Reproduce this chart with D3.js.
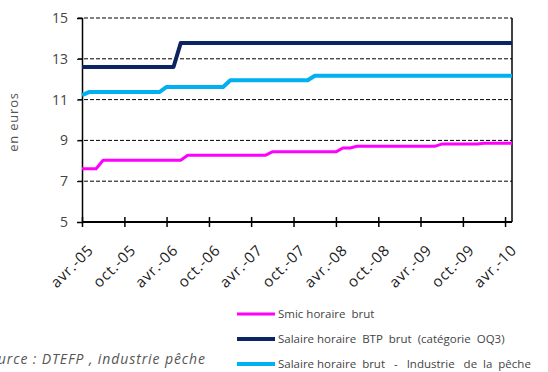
<!DOCTYPE html>
<meta charset="utf-8">
<style>
body { margin: 0; background: #fff; }
text { font-family: "Open Sans", sans-serif; }
.grid line { stroke: #000; stroke-width: 1; stroke-dasharray: 4,2; }
</style>
<svg width="548" height="372"></svg>
<script src="https://d3js.org/d3.v7.min.js"></script>
<script>

// months shown on the x axis
var tick_months = ["2005-04","2005-10","2006-04","2006-10","2007-04","2007-10",
                   "2008-04","2008-10","2009-04","2009-10","2010-04"];
var tick_labels = ["avr.-05","oct.-05","avr.-06","oct.-06","avr.-07","oct.-07",
                   "avr.-08","oct.-08","avr.-09","oct.-09","avr.-10"];
var y_ticks = [5, 7, 9, 11, 13, 15];

// series, as [month, value] points (flat between listed points)
var smic = [["2005-04",7.61],["2005-06",7.61],["2005-07",8.03],["2006-06",8.03],
            ["2006-07",8.27],["2007-06",8.27],["2007-07",8.44],["2008-04",8.44],
            ["2008-05",8.63],["2008-06",8.63],["2008-07",8.71],["2009-06",8.71],
            ["2009-07",8.82],["2009-12",8.82],["2010-01",8.86],["2010-05",8.86]];
var btp = [["2005-04",12.6],["2006-05",12.6],["2006-06",13.77],["2010-05",13.77]];
var peche = [["2005-04",11.22],["2005-05",11.37],["2006-03",11.37],["2006-04",11.62],
             ["2006-12",11.62],["2007-01",11.95],["2007-12",11.95],["2008-01",12.17],
             ["2010-05",12.17]];

var series_names = ["Smic horaire  brut",
                    "Salaire horaire  BTP  brut  (catégorie  OQ3)",
                    "Salaire horaire  brut   -   Industrie   de  la  pêche"];

var pink = "#ff00ff", navy = "#0c2461", light_blue = "#00b0f0";

var svg = d3.select("svg");
var parse = d3.timeParse("%Y-%m");

var x = d3.scaleTime()
    .domain([parse("2005-04"), parse("2010-05")])
    .range([82, 512]);
var y = d3.scaleLinear().domain([5, 15]).range([222, 18]);

// dashed gridlines
svg.append("g").attr("class", "grid")
  .selectAll("line")
  .data(y_ticks.slice(1))
  .enter().append("line")
  .attr("x1", 78).attr("x2", 512)
  .attr("y1", function(d) { return y(d); })
  .attr("y2", function(d) { return y(d); });

// right border
svg.append("line")
  .attr("x1", 512).attr("x2", 512).attr("y1", y(15)).attr("y2", y(5))
  .style("stroke", "#000").style("stroke-width", 1.5);

// y axis
var yAxis = svg.append("g")
  .attr("transform", "translate(82,0)")
  .call(d3.axisLeft(y).tickValues(y_ticks).tickSize(5).tickPadding(9));
yAxis.select(".domain").style("stroke-width", 1.5);
yAxis.selectAll("text").style("font-size", "14px").style("fill", "#444")
  .style("font-family", "'Open Sans', sans-serif");

// x axis
var xAxis = svg.append("g")
  .attr("transform", "translate(0," + y(5) + ")")
  .call(d3.axisBottom(x)
    .tickValues(tick_months.map(parse))
    .tickSize(5)
    .tickFormat(function(d, i) { return tick_labels[i]; }));
xAxis.select(".domain").style("stroke-width", 2).attr("d", "M82,0H512");
xAxis.selectAll(".tick line").attr("y1", -5).attr("y2", 5).style("stroke-width", 1.5);
xAxis.selectAll("text")
  .style("font-size", "15px").style("fill", "#222")
  .style("letter-spacing", "0.8px")
  .style("font-family", "'Open Sans', sans-serif")
  .style("text-anchor", "end")
  .attr("y", 0)
  .attr("dy", null)
  .attr("transform", "translate(12,29) rotate(-45)");

// lines
var line = d3.line()
  .x(function(d) { return x(parse(d[0])); })
  .y(function(d) { return y(d[1]); });

var all_series = [
  {data: peche, colour: light_blue, width: 4},
  {data: btp, colour: navy, width: 4},
  {data: smic, colour: pink, width: 3}
];
all_series.forEach(function(s) {
  svg.append("path")
    .attr("d", line(s.data))
    .style("fill", "none")
    .style("stroke", s.colour)
    .style("stroke-width", s.width)
    .style("stroke-linejoin", "round");
});

// y axis title
svg.append("text")
  .attr("transform", "translate(18,122) rotate(-90)")
  .style("text-anchor", "middle")
  .style("font-size", "13px")
  .style("fill", "#555")
  .style("letter-spacing", "0.8px")
  .text("en euros");

// legend
var legend_colours = [pink, navy, light_blue];
var legend_widths = [3, 4, 4];
series_names.forEach(function(name, i) {
  var ly = 314 + i * 25;
  svg.append("line")
    .attr("x1", 237).attr("x2", 275).attr("y1", ly).attr("y2", ly)
    .style("stroke", legend_colours[i])
    .style("stroke-width", legend_widths[i]);
  svg.append("text")
    .attr("x", 278).attr("y", ly + 4)
    .style("font-size", "11.5px")
    .style("white-space", "pre")
    .style("fill", "#444")
    .text(name);
});

// source
svg.append("text")
  .attr("x", -19).attr("y", 364)
  .style("font-size", "14px")
  .style("font-style", "italic")
  .style("letter-spacing", "0.9px")
  .style("fill", "#555")
  .text("Source : DTEFP , industrie pêche");

</script>
